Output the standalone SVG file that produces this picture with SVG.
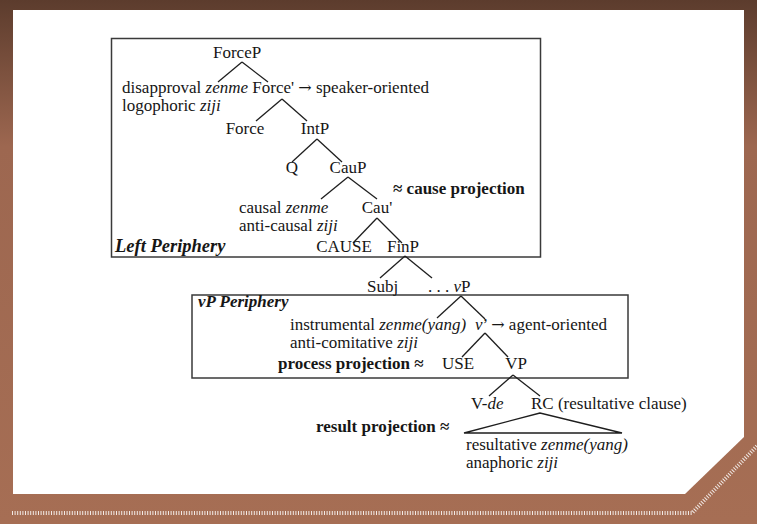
<svg xmlns="http://www.w3.org/2000/svg" width="757" height="524" viewBox="0 0 757 524">
<defs>
<linearGradient id="bg" x1="0" y1="0" x2="0" y2="1">
<stop offset="0" stop-color="#5c3c2d"/>
<stop offset="0.28" stop-color="#9d6750"/>
<stop offset="1" stop-color="#a66e54"/>
</linearGradient>
<style>
text{font-family:"Liberation Serif","Times New Roman",serif;font-size:17px;fill:#161616}
.m{text-anchor:middle}
.b{font-weight:bold}
.bi{font-weight:bold;font-style:italic}
.i{font-style:italic}
.ar{font-family:"DejaVu Serif",serif;font-size:16px}
.frame{fill:none;stroke:#3a3a3a;stroke-width:1.5}
.edge{stroke:#1e1e1e;stroke-width:1.3;fill:none}
</style>
</defs>
<rect x="0" y="0" width="757" height="524" fill="url(#bg)"/>
<polygon points="13,10 744,10 744,437 685,494 13,494" fill="#ffffff"/>
<polyline points="12,513 692,513 757,446" fill="none" stroke="#ffffff" stroke-opacity="0.85" stroke-width="4" stroke-dasharray="1 1.6"/>

<g id="box-left-periphery"><rect class="frame" x="111.5" y="38.5" width="429" height="218.5"/><text class="bi" x="115" y="252" style="font-size:18.5px">Left Periphery</text></g>
<g id="box-vp-periphery"><rect class="frame" x="192" y="295" width="436" height="83"/><text class="bi" x="198" y="307">vP Periphery</text></g>

<g id="connectors">
<line class="edge" x1="242" y1="62" x2="218" y2="82"/>
<line class="edge" x1="242" y1="62" x2="268" y2="82"/>
<line class="edge" x1="282" y1="99" x2="256" y2="121"/>
<line class="edge" x1="282" y1="99" x2="307" y2="121"/>
<line class="edge" x1="317" y1="139" x2="292" y2="162"/>
<line class="edge" x1="317" y1="139" x2="342" y2="162"/>
<line class="edge" x1="348" y1="177" x2="321" y2="199"/>
<line class="edge" x1="348" y1="177" x2="377" y2="199"/>
<line class="edge" x1="377" y1="218" x2="353" y2="243"/>
<line class="edge" x1="377" y1="218" x2="402" y2="243"/>
<line class="edge" x1="405" y1="256" x2="380" y2="278"/>
<line class="edge" x1="405" y1="256" x2="432" y2="278"/>
<line class="edge" x1="461" y1="296" x2="437" y2="318"/>
<line class="edge" x1="461" y1="296" x2="485" y2="319"/>
<line class="edge" x1="485" y1="333" x2="462" y2="357"/>
<line class="edge" x1="485" y1="333" x2="508" y2="357"/>
<line class="edge" x1="513" y1="375" x2="489" y2="396"/>
<line class="edge" x1="513" y1="375" x2="540" y2="396"/>
<polygon class="edge" points="540,413 464,433 622,433"/>
</g>

<g id="node-forcep"><text x="213" y="58">ForceP</text></g>
<g id="node-force-bar"><text x="122" y="93">disapproval <tspan class="i">zenme</tspan> Force' <tspan class="ar">→</tspan> speaker-oriented</text><text x="122" y="111">logophoric <tspan class="i">ziji</tspan></text></g>
<g id="node-force"><text class="m" x="245" y="134">Force</text></g>
<g id="node-intp"><text class="m" x="315" y="134">IntP</text></g>
<g id="node-q"><text class="m" x="292" y="173">Q</text></g>
<g id="node-caup"><text class="m" x="348" y="173">CauP</text><text class="b" x="393" y="194">≈ cause projection</text></g>
<g id="node-cau-bar"><text x="239" y="213">causal <tspan class="i">zenme</tspan></text><text x="239" y="231">anti-causal <tspan class="i">ziji</tspan></text><text class="m" x="377" y="213">Cau'</text></g>
<g id="node-cause"><text class="m" x="344" y="252">CAUSE</text></g>
<g id="node-finp"><text class="m" x="403" y="252">FinP</text></g>
<g id="node-subj"><text x="367" y="292">Subj</text></g>
<g id="node-vp-small"><text x="428" y="292">. . . <tspan class="i">v</tspan>P</text></g>
<g id="node-v-bar"><text x="290" y="329.5">instrumental <tspan class="i">zenme(yang)</tspan></text><text x="290" y="347.5">anti-comitative <tspan class="i">ziji</tspan></text><text x="475" y="329.5"><tspan class="i">v</tspan>’ <tspan class="ar">→</tspan> agent-oriented</text></g>
<g id="node-use"><text class="b" x="278" y="369">process projection ≈</text><text class="m" x="458" y="369">USE</text></g>
<g id="node-vp"><text class="m" x="516" y="369">VP</text></g>
<g id="node-v-de"><text x="471" y="409">V-<tspan class="i">de</tspan></text></g>
<g id="node-rc"><text x="531" y="409">RC (resultative clause)</text><text class="b" x="316" y="432">result projection ≈</text><text x="466" y="450">resultative <tspan class="i">zenme(yang)</tspan></text><text x="466" y="468">anaphoric <tspan class="i">ziji</tspan></text></g>
</svg>
